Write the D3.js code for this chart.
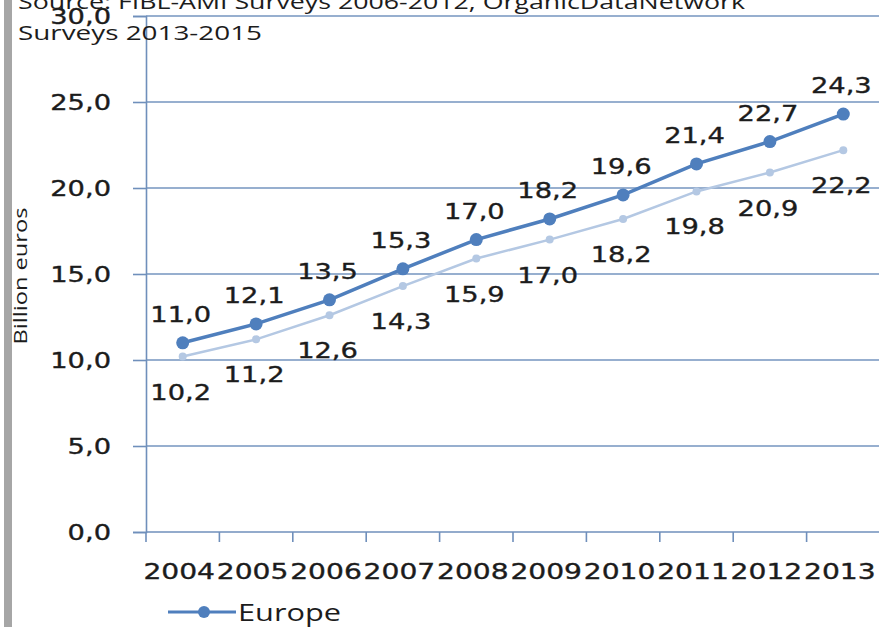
<!DOCTYPE html>
<html><head><meta charset="utf-8">
<script src="https://cdn.jsdelivr.net/npm/d3@7"></script>
<style>html,body{margin:0;padding:0;background:#fff;}svg{display:block;}</style>
</head><body>
<script>
const years = ["2004","2005","2006","2007","2008","2009","2010","2011","2012","2013"];
const europe = [11.0,12.1,13.5,15.3,17.0,18.2,19.6,21.4,22.7,24.3];
const secondSeries = [10.2,11.2,12.6,14.3,15.9,17.0,18.2,19.8,20.9,22.2];
const yTicks = [0,5,10,15,20,25,30];
const sourceLines = ["Source: FIBL-AMI Surveys 2006-2012, OrganicDataNetwork","Surveys 2013-2015"];
const yTitle = "Billion euros";
const legendLabel = "Europe";

const W = 879, H = 627;
const svg = d3.select("body").append("svg").attr("width", W).attr("height", H);
const FONT = "'DejaVu Sans', Verdana, sans-serif";
const TXT = "#1c1c1c";
const fmt = v => d3.format(".1f")(v).replace(".", ",");

// left gray bar
svg.append("rect").attr("x",4).attr("y",0).attr("width",8).attr("height",H).attr("fill","#a6a6a6");

const x = d3.scaleBand().domain(years).range([146, 880]);
const y = d3.scaleLinear().domain([0,30]).range([532, 16]);

// gridlines
svg.append("g").selectAll("line").data(yTicks.filter(d=>d>0)).join("line")
  .attr("x1",146).attr("x2",W).attr("y1",d=>y(d)).attr("y2",d=>y(d))
  .attr("stroke","#7594bf").attr("stroke-width",1.7);

// y axis
const yAxis = svg.append("g").attr("transform","translate(146,0)")
  .call(d3.axisLeft(y).tickValues(yTicks).tickSize(13).tickFormat(""));
yAxis.select(".domain").attr("stroke","#6f8fbb").attr("stroke-width",1.6);
yAxis.selectAll(".tick line").attr("stroke","#6f8fbb").attr("stroke-width",1.6);

// x axis
const xAxis = svg.append("g").attr("transform","translate(0,532)")
  .call(d3.axisBottom(x).tickSize(0).tickFormat(""));
xAxis.select(".domain").attr("stroke","#6f8fbb").attr("stroke-width",1.6).attr("d","M146,0H"+W);
const bandEdges = years.map(d => x(d));
svg.append("g").selectAll("line").data(bandEdges).join("line")
  .attr("x1",d=>d).attr("x2",d=>d).attr("y1",532).attr("y2",542)
  .attr("stroke","#6f8fbb").attr("stroke-width",1.6);

function stretchedText(g, tx, ty, s, anchor, size, sx) {
  return g.append("text")
    .attr("transform", `translate(${tx},${ty}) scale(${sx},1)`)
    .attr("text-anchor", anchor).attr("font-family", FONT)
    .attr("font-size", size).attr("fill", TXT)
    .attr("stroke", TXT).attr("stroke-width", 0.35).text(s);
}

// y tick labels
const yl = svg.append("g");
yTicks.forEach(t => stretchedText(yl, 111, y(t)+8, fmt(t), "end", 21, 1.3));

// x tick labels
const xl = svg.append("g");
years.forEach(yr => stretchedText(xl, x(yr)+x.bandwidth()/2-3.5, 579, yr, "middle", 21, 1.34));

const cx = d => x(d) + x.bandwidth()/2;

// light series
svg.append("path").datum(secondSeries)
  .attr("d", d3.line().x((d,i)=>cx(years[i])).y(d=>y(d)))
  .attr("fill","none").attr("stroke","#b4c8e3").attr("stroke-width",2.5);
svg.append("g").selectAll("circle").data(secondSeries).join("circle")
  .attr("cx",(d,i)=>cx(years[i])).attr("cy",d=>y(d)).attr("r",4).attr("fill","#b4c8e3");

// Europe series
svg.append("path").datum(europe)
  .attr("d", d3.line().x((d,i)=>cx(years[i])).y(d=>y(d)))
  .attr("fill","none").attr("stroke","#4f7fbd").attr("stroke-width",3.5);
svg.append("g").selectAll("circle").data(europe).join("circle")
  .attr("cx",(d,i)=>cx(years[i])).attr("cy",d=>y(d)).attr("r",6.5).attr("fill","#4f7fbd");

// data labels
const dl = svg.append("g");
europe.forEach((v,i) => stretchedText(dl, cx(years[i])-2, y(v)-21, fmt(v), "middle", 21, 1.3));
secondSeries.forEach((v,i) => stretchedText(dl, cx(years[i])-2, y(v)+43, fmt(v), "middle", 21, 1.3));

// source text
svg.append("text").attr("x",18).attr("y",9).attr("font-family","'Open Sans', sans-serif")
  .attr("font-size",20).attr("fill",TXT).attr("textLength",727).attr("lengthAdjust","spacingAndGlyphs")
  .text(sourceLines[0]);
svg.append("text").attr("x",18).attr("y",40).attr("font-family","'Open Sans', sans-serif")
  .attr("font-size",20).attr("fill",TXT).attr("textLength",244).attr("lengthAdjust","spacingAndGlyphs")
  .text(sourceLines[1]);

// y title
svg.append("text").attr("transform","translate(27,276) rotate(-90)")
  .attr("text-anchor","middle").attr("font-family","'Open Sans', sans-serif")
  .attr("font-size",19).attr("fill",TXT).attr("textLength",137).attr("lengthAdjust","spacingAndGlyphs")
  .text(yTitle);

// legend
const lg = svg.append("g");
lg.append("line").attr("x1",168).attr("x2",236).attr("y1",612).attr("y2",612)
  .attr("stroke","#4f7fbd").attr("stroke-width",3);
lg.append("circle").attr("cx",204).attr("cy",612).attr("r",6).attr("fill","#4f7fbd");
lg.append("text").attr("x",238).attr("y",621).attr("font-family","'Open Sans', sans-serif")
  .attr("font-size",23).attr("fill",TXT).attr("textLength",103).attr("lengthAdjust","spacingAndGlyphs")
  .text(legendLabel);
</script>
</body></html>
